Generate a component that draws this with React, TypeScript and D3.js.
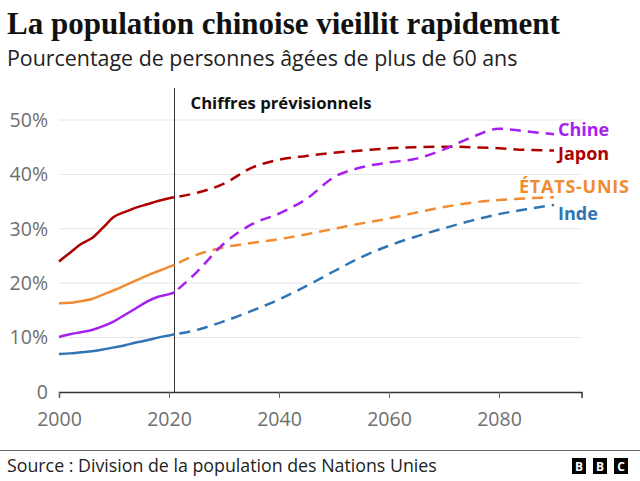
import React, { useEffect, useRef } from 'react';
import * as d3 from 'd3';

// historical values (solid lines)
const histYears = [2000, 2002, 2004, 2006, 2008, 2010, 2012, 2014, 2016, 2018, 2020, 2021];
const histJapan = [24.0, 25.6, 27.2, 28.3, 30.2, 32.2, 33.1, 33.9, 34.5, 35.1, 35.6, 35.8];
const histUSA = [16.3, 16.4, 16.7, 17.1, 17.9, 18.7, 19.6, 20.5, 21.4, 22.2, 23.0, 23.4];
const histChina = [10.1, 10.6, 11.0, 11.4, 12.1, 13.0, 14.2, 15.4, 16.6, 17.5, 18.0, 18.3];
const histIndia = [7.0, 7.1, 7.3, 7.5, 7.8, 8.2, 8.6, 9.1, 9.5, 10.0, 10.4, 10.6];

// projections (dashed lines)
const projYears = [2021, 2025, 2030, 2035, 2040, 2045, 2050, 2055, 2060, 2065, 2070, 2075, 2080, 2085, 2090];
const projJapan = [35.8, 36.6, 38.3, 41.2, 42.7, 43.4, 44.0, 44.4, 44.8, 45.0, 45.1, 45.0, 44.8, 44.5, 44.4];
const projChina = [18.3, 22.0, 27.3, 30.8, 32.8, 35.5, 39.5, 41.3, 42.2, 42.9, 44.6, 46.8, 48.4, 47.9, 47.4];
const projUSA = [23.4, 25.2, 26.6, 27.4, 28.1, 29.0, 30.0, 31.0, 31.9, 33.0, 34.0, 34.8, 35.3, 35.6, 35.8];
const projIndia = [10.6, 11.4, 13.0, 14.9, 17.0, 19.5, 22.2, 24.8, 26.9, 28.6, 30.1, 31.5, 32.7, 33.6, 34.4];

const countries = ['Chine', 'Japon', 'ÉTATS-UNIS', 'Inde'];
const colors = ['#a61fef', '#ad0000', '#f18a30', '#2f74b3'];

const xTicks = [2000, 2020, 2040, 2060, 2080];
const yTicks = [0, 10, 20, 30, 40, 50];

const title = 'La population chinoise vieillit rapidement';
const subtitle = 'Pourcentage de personnes âgées de plus de 60 ans';
const forecastLabel = 'Chiffres prévisionnels';
const source = 'Source : Division de la population des Nations Unies';

const SANS = "'Open Sans', 'Noto Sans', sans-serif";

const App = () => {
  const rootRef = useRef<SVGSVGElement>(null);

  useEffect(() => {
    const width = 640;
    const height = 481;
    const svg = d3.select(rootRef.current).attr('width', width).attr('height', height);
    svg.selectAll('*').remove();

    const x = d3.scaleLinear().domain([2000, 2095]).range([59, 581.5]);
    const y = d3.scaleLinear().domain([0, 50]).range([392, 120]);

    svg.append('rect').attr('width', width).attr('height', height).attr('fill', '#fff');

    // title block
    svg.append('text')
      .attr('x', 7).attr('y', 34)
      .attr('font-family', "'Liberation Serif', serif")
      .attr('font-weight', 'bold')
      .attr('font-size', 31)
      .attr('fill', '#111')
      .text(title);
    svg.append('text')
      .attr('x', 7).attr('y', 66)
      .attr('font-family', SANS)
      .attr('font-size', 21.4)
      .attr('fill', '#222')
      .text(subtitle);

    // gridlines
    svg.append('g')
      .selectAll('line')
      .data(yTicks.filter((d) => d > 0))
      .enter()
      .append('line')
      .attr('x1', x(2000)).attr('x2', x(2095))
      .attr('y1', (d) => y(d)).attr('y2', (d) => y(d))
      .attr('stroke', '#e6e6e6')
      .attr('stroke-width', 1);

    // y labels
    svg.append('g')
      .selectAll('text')
      .data(yTicks)
      .enter()
      .append('text')
      .attr('x', 48)
      .attr('y', (d) => y(d))
      .attr('dy', '0.35em')
      .attr('text-anchor', 'end')
      .attr('font-family', SANS)
      .attr('font-size', 19.5)
      .attr('fill', '#6e6e6e')
      .text((d) => (d === 0 ? '0' : d + '%'));

    // x axis
    const xAxis = d3.axisBottom(x).tickValues(xTicks).tickFormat(d3.format('d')).tickSize(6).tickPadding(14);
    const gx = svg.append('g').attr('transform', `translate(0,${y(0)})`).call(xAxis);
    gx.select('.domain').attr('stroke', '#333').attr('stroke-width', 1.5);
    gx.selectAll('.tick line').attr('stroke', '#666');
    gx.selectAll('.tick text')
      .attr('font-family', SANS)
      .attr('font-size', 19.5)
      .attr('fill', '#6e6e6e');

    // forecast marker
    svg.append('line')
      .attr('x1', x(2021)).attr('x2', x(2021))
      .attr('y1', 88).attr('y2', y(0))
      .attr('stroke', '#333')
      .attr('stroke-width', 1);
    svg.append('text')
      .attr('x', x(2021) + 16).attr('y', 109)
      .attr('font-family', SANS)
      .attr('font-weight', 'bold')
      .attr('font-size', 16.7)
      .attr('fill', '#111')
      .text(forecastLabel);

    const line = d3.line<[number, number]>()
      .x((d) => x(d[0]))
      .y((d) => y(d[1]))
      .curve(d3.curveMonotoneX);

    const hist = [histChina, histJapan, histUSA, histIndia];
    const proj = [projChina, projJapan, projUSA, projIndia];

    // draw order: India, USA, China, Japan
    [3, 2, 1, 0].forEach((i) => {
      svg.append('path')
        .attr('d', line(histYears.map((yr, k) => [yr, hist[i][k]] as [number, number])))
        .attr('fill', 'none')
        .attr('stroke', colors[i])
        .attr('stroke-width', 2.5);
      svg.append('path')
        .attr('d', line(projYears.map((yr, k) => [yr, proj[i][k]] as [number, number])))
        .attr('fill', 'none')
        .attr('stroke', colors[i])
        .attr('stroke-width', 2.5)
        .attr('stroke-dasharray', '11,7')
        .attr('stroke-dashoffset', 13);
    });

    // direct labels
    const lastYear = projYears[projYears.length - 1];
    const labelShift = [-4, 3, -11, 9];
    const labelX = [x(lastYear) + 4, x(lastYear) + 4, x(lastYear) - 35, x(lastYear) + 4];
    countries.forEach((name, i) => {
      const p = proj[i];
      svg.append('text')
        .attr('x', labelX[i])
        .attr('y', y(p[p.length - 1]) + labelShift[i])
        .attr('dy', '0.35em')
        .attr('font-family', SANS)
        .attr('font-weight', 'bold')
        .attr('font-size', 18)
        .attr('fill', colors[i])
        .attr('textLength', i === 2 ? 110 : null)
        .text(name);
    });

    // footer
    svg.append('line')
      .attr('x1', 0).attr('x2', width)
      .attr('y1', 450.5).attr('y2', 450.5)
      .attr('stroke', '#666')
      .attr('stroke-width', 1.2);
    svg.append('text')
      .attr('x', 7).attr('y', 472)
      .attr('font-family', SANS)
      .attr('font-size', 17.8)
      .attr('fill', '#222')
      .text(source);

    const logo = svg.append('g').attr('transform', 'translate(572,458)');
    ['B', 'B', 'C'].forEach((ch, i) => {
      logo.append('rect')
        .attr('x', i * 21).attr('y', 0)
        .attr('width', 14).attr('height', 16)
        .attr('fill', '#000');
      logo.append('text')
        .attr('x', i * 21 + 7).attr('y', 13)
        .attr('text-anchor', 'middle')
        .attr('font-family', SANS)
        .attr('font-weight', 'bold')
        .attr('font-size', 12)
        .attr('fill', '#fff')
        .text(ch);
    });
  }, []);

  return <svg ref={rootRef} style={{ position: 'absolute', left: 0, top: 0 }}></svg>;
};

export default App;
